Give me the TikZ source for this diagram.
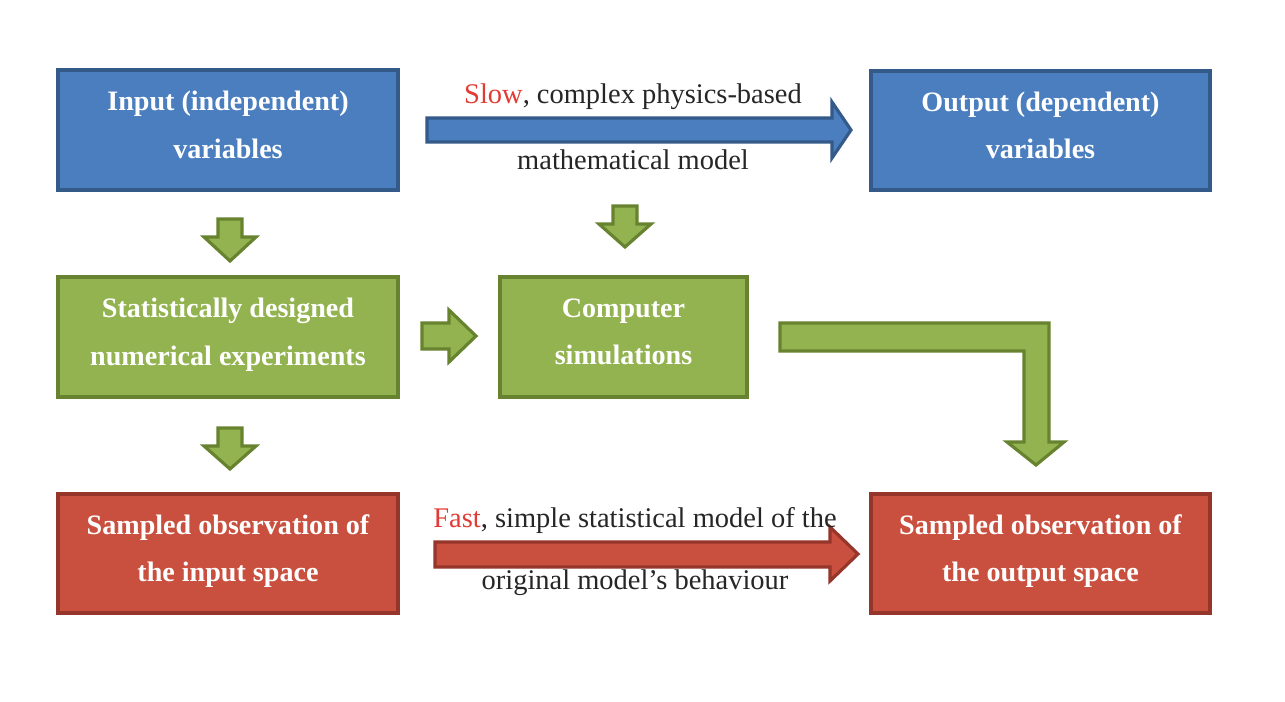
\documentclass[tikz,border=0pt]{standalone}
\usepackage{fontspec}
\setmainfont{Liberation Serif}
\definecolor{bfill}{HTML}{4A7EBF}
\definecolor{bdraw}{HTML}{345A8A}
\definecolor{gfill}{HTML}{93B350}
\definecolor{gdraw}{HTML}{67832F}
\definecolor{rfill}{HTML}{C9503F}
\definecolor{rdraw}{HTML}{96352A}
\definecolor{slowred}{HTML}{E23B35}
\definecolor{labtext}{HTML}{262626}
\tikzset{
  box/.style={draw, line width=2pt, text=white, align=center,
    font=\fontsize{16}{27}\selectfont\bfseries, inner sep=0pt},
  bluebox/.style={box, fill=bfill, draw=bdraw},
  greenbox/.style={box, fill=gfill, draw=gdraw},
  redbox/.style={box, fill=rfill, draw=rdraw},
  lab/.style={font=\fontsize{16.2}{20}\selectfont, text=labtext, inner sep=0pt},
  garrow/.style={fill=gfill, draw=gdraw, line width=1.8pt, line join=miter},
  barrow/.style={fill=bfill, draw=bdraw, line width=1.8pt},
  rarrow/.style={fill=rfill, draw=rdraw, line width=1.8pt}
}
\begin{document}
\begin{tikzpicture}[x=0.02cm,y=-0.02cm]
\useasboundingbox[fill=white] (0,0) rectangle (1285,701);
% boxes
\node[bluebox, minimum width=6.8cm, minimum height=2.4cm] (in) at (228,130) {Input (independent)\\variables\rule[-6pt]{0pt}{0pt}};
\node[bluebox, minimum width=6.78cm, minimum height=2.38cm] (out) at (1040.5,130.5) {Output (dependent)\\variables\rule[-6pt]{0pt}{0pt}};
\node[greenbox, minimum width=6.8cm, minimum height=2.4cm] (doe) at (228,337) {Statistically designed\\numerical experiments\rule[-6pt]{0pt}{0pt}};
\node[greenbox, minimum width=4.94cm, minimum height=2.4cm] (sim) at (623.5,337) {Computer\\simulations\rule[-6pt]{0pt}{0pt}};
\node[redbox, minimum width=6.8cm, minimum height=2.38cm] (sin) at (228,553.5) {Sampled observation of\\the input space\rule[-6pt]{0pt}{0pt}};
\node[redbox, minimum width=6.78cm, minimum height=2.38cm] (sout) at (1040.5,553.5) {Sampled observation of\\the output space\rule[-6pt]{0pt}{0pt}};
% blue arrow
\draw[barrow] (427,118) -- (832,118) -- (832,102) -- (851,130) -- (832,158) -- (832,142) -- (427,142) -- cycle;
\node[lab] (slow) at (633,97) {\textcolor{slowred}{Slow}, complex physics-based};
\node[lab] (math) at (633,160) {mathematical model};
% red arrow
\draw[rarrow] (435,542) -- (830,542) -- (830,527) -- (858,554) -- (830,581) -- (830,567) -- (435,567) -- cycle;
\node[lab] (fast) at (635,520) {\textcolor{slowred}{Fast}, simple statistical model of the};
\node[lab] (orig) at (635,583) {original model's behaviour};
% green down arrows
\draw[garrow] (218,219) -- (242,219) -- (242,237) -- (256,237) -- (230,261) -- (204,237) -- (218,237) -- cycle;
\draw[garrow] (613,206) -- (637,206) -- (637,224) -- (651,224) -- (625,247) -- (599,224) -- (613,224) -- cycle;
\draw[garrow] (218,428) -- (242,428) -- (242,446) -- (256,446) -- (230,469) -- (204,446) -- (218,446) -- cycle;
% green right arrow
\draw[garrow] (422,323) -- (449,323) -- (449,310) -- (476,336) -- (449,362) -- (449,349) -- (422,349) -- cycle;
% L arrow
\draw[garrow] (780,323) -- (1049,323) -- (1049,442) -- (1064,442) -- (1036,465) -- (1007,442) -- (1024,442) -- (1024,351) -- (780,351) -- cycle;
\end{tikzpicture}
\end{document}
